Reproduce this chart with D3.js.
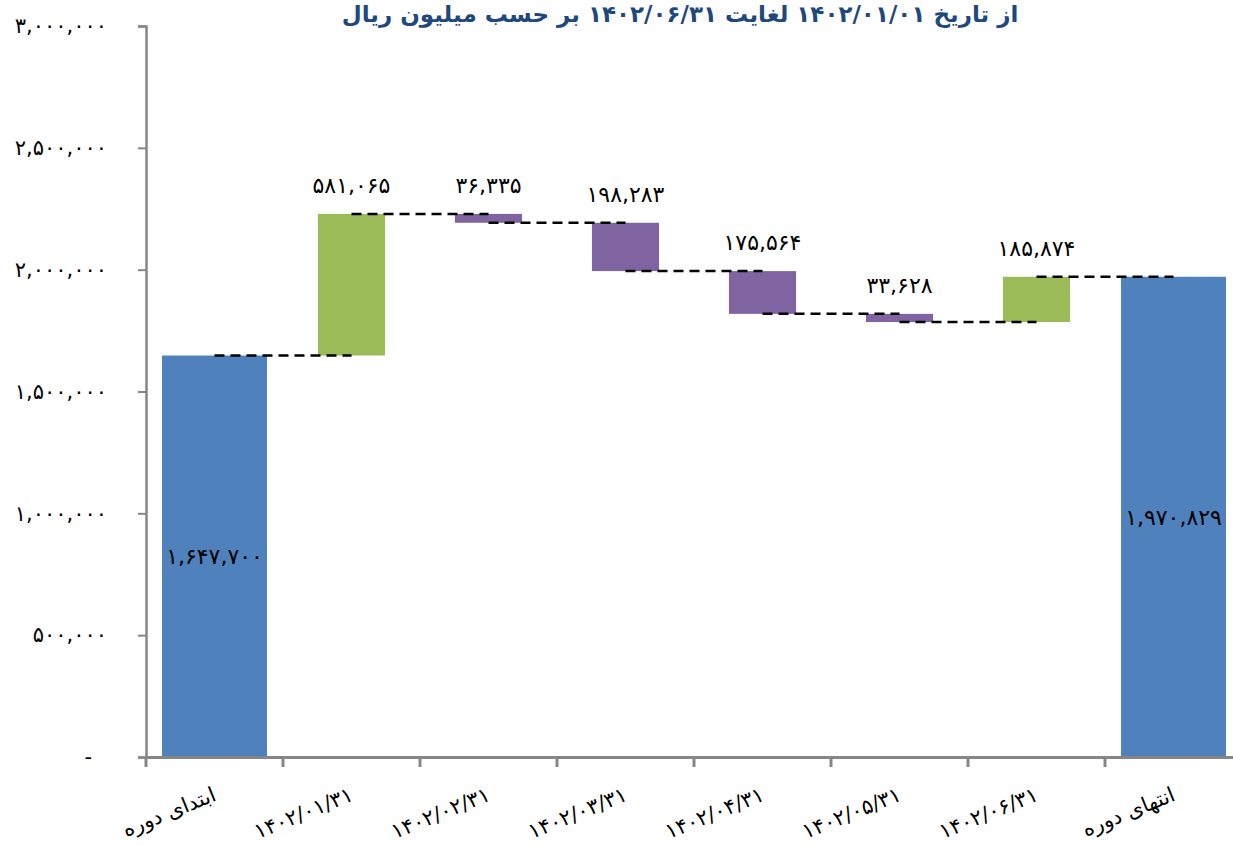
<!DOCTYPE html>
<html><head><meta charset="utf-8">
<script src="https://cdn.jsdelivr.net/npm/d3@7"></script>
<style>body{margin:0;background:#fff}svg{display:block}</style>
</head><body>
<svg id="c" width="1233" height="846"></svg>
<script>
const categories = ["ابتدای دوره","۱۴۰۲/۰۱/۳۱","۱۴۰۲/۰۲/۳۱","۱۴۰۲/۰۳/۳۱","۱۴۰۲/۰۴/۳۱","۱۴۰۲/۰۵/۳۱","۱۴۰۲/۰۶/۳۱","انتهای دوره"];
const changes = [1647700, 581065, -36335, -198283, -175564, -33628, 185874, 1970829];
const kinds = ["total","up","down","down","down","down","up","total"];
const yTicks = [0, 500000, 1000000, 1500000, 2000000, 2500000, 3000000];
const title = "از تاریخ  ۱۴۰۲/۰۱/۰۱ لغایت ۱۴۰۲/۰۶/۳۱ بر حسب میلیون ریال";

const colors = {total:"#4F81BD", up:"#9BBB59", down:"#8064A2"};
const fa = s => String(s).replace(/[0-9]/g, d => "۰۱۲۳۴۵۶۷۸۹"[+d]);
const fmt = v => fa(d3.format(",")(v));

// build waterfall
let run = 0;
const bars = categories.map((c,i) => {
  let y0, y1;
  if (kinds[i] === "total") { y0 = 0; y1 = changes[i]; run = changes[i]; }
  else { y0 = run; y1 = run + changes[i]; run = y1; }
  return {cat:c, y0, y1, kind:kinds[i], val:Math.abs(changes[i]), level:run};
});

const svg = d3.select("#c");
const font = "'DejaVu Sans', sans-serif";
const x = d3.scaleBand().domain(categories).range([146, 1242]).paddingInner(0).paddingOuter(0);
const y = d3.scaleLinear().domain([0, 3000000]).range([757, 26]);
const cx = c => x(c) + x.bandwidth()/2;
const bw = d => (d.kind === "total" ? 0.766 : 0.49) * x.step();

// bars
svg.append("g").selectAll("rect").data(bars).join("rect")
  .attr("x", d => cx(d.cat) - bw(d)/2).attr("width", d => bw(d))
  .attr("y", d => y(Math.max(d.y0,d.y1)))
  .attr("height", d => Math.abs(y(d.y0) - y(d.y1)))
  .attr("fill", d => colors[d.kind]);

// connectors
svg.append("g").selectAll("line").data(bars.slice(0,-1)).join("line")
  .attr("x1", (d,i) => cx(categories[i]))
  .attr("x2", (d,i) => cx(categories[i+1]))
  .attr("y1", d => y(d.level)).attr("y2", d => y(d.level))
  .attr("stroke", "#000").attr("stroke-width", 2.5).attr("stroke-dasharray", "10,6");

// value labels
svg.append("g").selectAll("text").data(bars).join("text")
  .attr("x", d => cx(d.cat))
  .attr("y", d => d.kind === "total" ? y(d.y1/2) + 8 : y(Math.max(d.y0,d.y1)) - 21)
  .attr("text-anchor", "middle")
  .attr("font-family", font).attr("font-size", 22).attr("fill", "#000")
  .text(d => fmt(d.val));

// y axis
const yAxis = d3.axisLeft(y).tickValues(yTicks).tickSize(8).tickPadding(31)
  .tickFormat(v => v === 0 ? "-" : fmt(v));
const ga = svg.append("g").attr("transform", "translate(146,0)").call(yAxis);
ga.select(".domain").attr("stroke", "#868686").attr("stroke-width", 2.5);
ga.selectAll(".tick line").attr("stroke", "#868686").attr("stroke-width", 2);
ga.selectAll(".tick text").attr("font-family", font).attr("font-size", 21).attr("fill", "#000");
ga.selectAll(".tick text").filter(v => v === 0).attr("dx", -15);

// x axis
const xAxis = d3.axisBottom(x).tickSize(0).tickFormat(() => "");
const gx = svg.append("g").attr("transform", "translate(0,757)").call(xAxis);
gx.select(".domain").attr("stroke", "#868686").attr("stroke-width", 3);
svg.append("g").selectAll("line").data(categories).join("line")
  .attr("x1", c => x(c)).attr("x2", c => x(c)).attr("y1", 757).attr("y2", 767)
  .attr("stroke", "#868686").attr("stroke-width", 3);

svg.append("g").selectAll("text").data(categories).join("text")
  .attr("transform", c => `translate(${cx(c)+3},${800}) rotate(-22)`)
  .attr("text-anchor", "end")
  .attr("font-family", font).attr("font-size", 21).attr("fill", "#000")
  .text(c => c);

// title
svg.append("text").attr("x", 680).attr("y", 22).attr("text-anchor", "middle")
  .attr("font-family", font).attr("font-weight", "bold").attr("font-size", 23)
  .attr("fill", "#1F497D").attr("direction", "rtl").text(title);
</script>
</body></html>
